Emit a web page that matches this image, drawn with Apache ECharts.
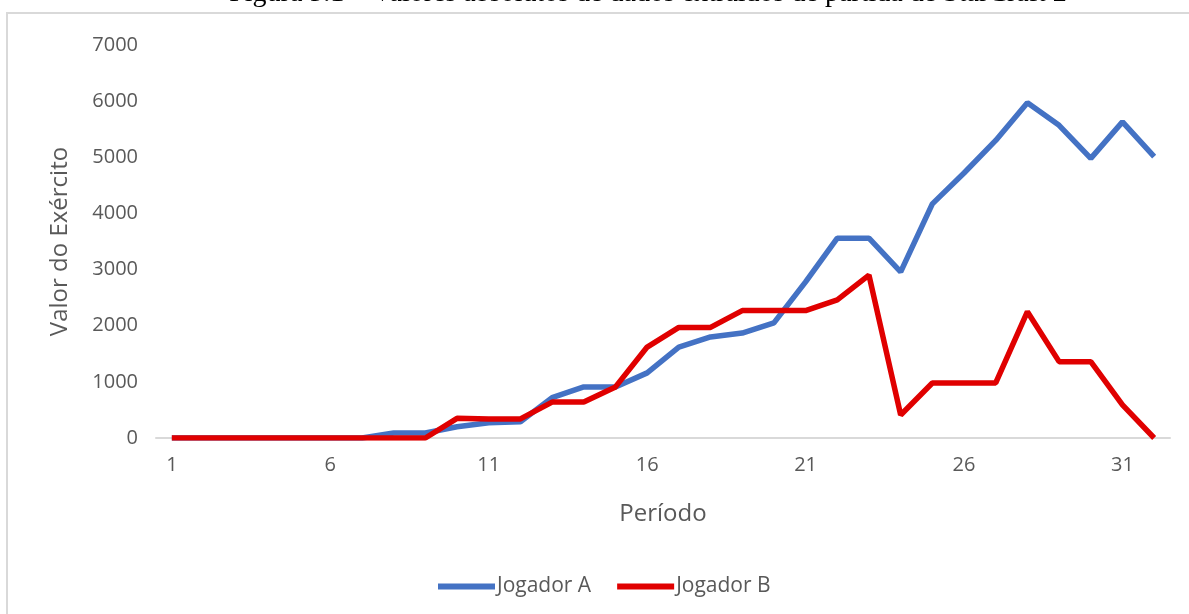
<!DOCTYPE html>
<html>
<head>
<meta charset="utf-8">
<script src="https://cdn.jsdelivr.net/npm/echarts@6/dist/echarts.min.js"></script>
<style>
html,body{margin:0;padding:0;background:#fff;}
#chart{width:1189px;height:614px;}
</style>
</head>
<body>
<div id="chart"></div>
<script>
const periods = ['1','2','3','4','5','6','7','8','9','10','11','12','13','14','15','16','17','18','19','20','21','22','23','24','25','26','27','28','29','30','31','32'];
const jogadorA = [0,0,0,0,0,0,0,90,90,200,270,290,720,910,910,1160,1620,1800,1870,2050,2780,3560,3560,2960,4170,4720,5300,5970,5570,4980,5630,5010];
const jogadorB = [0,0,0,0,0,0,0,0,0,350,340,340,640,640,910,1620,1970,1970,2270,2270,2270,2460,2900,410,980,980,980,2250,1360,1360,590,0];
const yTicks = {min:0, max:7000, interval:1000};
const titleText = 'Figura 5.1 – Valores absolutos de dados extraídos de partida de StarCraft 2';

const txt = '#595959';
const chart = echarts.init(document.getElementById('chart'), null, {renderer:'canvas'});
chart.setOption({
  backgroundColor:'#fff',
  animation:false,
  graphic:[
    {type:'rect', shape:{x:7,y:13,width:1200,height:700}, style:{fill:'none', stroke:'#d9d9d9', lineWidth:2}, silent:true},
    {type:'text', style:{text:titleText, x:648, y:-6, font:'28px "Liberation Serif"', fill:'#000', textAlign:'center', textVerticalAlign:'middle'}, silent:true}
  ],
  legend:{
    left:433, top:571,
    itemWidth:57, itemHeight:6, itemGap:26,
    icon:'rect',
    textStyle:{color:txt, fontFamily:'Open Sans', fontSize:21, padding:[0,0,0,-3]},
    data:['Jogador A','Jogador B']
  },
  grid:{left:156, right:19, top:45, bottom:176, containLabel:false},
  xAxis:{
    type:'category', data:periods, boundaryGap:true,
    name:'Período', nameLocation:'middle', nameGap:64,
    nameTextStyle:{color:txt, fontFamily:'Open Sans', fontSize:24},
    axisLine:{lineStyle:{color:'#d9d9d9', width:2}},
    axisTick:{show:false},
    axisLabel:{interval:4, color:txt, fontFamily:'Open Sans', fontSize:20, margin:17}
  },
  yAxis:{
    type:'value', min:yTicks.min, max:yTicks.max, interval:yTicks.interval,
    name:'Valor do Exército', nameLocation:'middle', nameGap:84, nameRotate:90,
    nameTextStyle:{color:txt, fontFamily:'Open Sans', fontSize:24},
    axisLine:{show:false}, axisTick:{show:false}, splitLine:{show:false},
    axisLabel:{color:txt, fontFamily:'Open Sans', fontSize:20, margin:18, formatter: v => String(v)}
  },
  series:[
    {name:'Jogador A', type:'line', data:jogadorA, symbol:'none', lineStyle:{color:'#4472C4', width:5.5}, itemStyle:{color:'#4472C4'}},
    {name:'Jogador B', type:'line', data:jogadorB, symbol:'none', lineStyle:{color:'#E00000', width:5.5}, itemStyle:{color:'#E00000'}}
  ]
});
</script>
</body>
</html>
